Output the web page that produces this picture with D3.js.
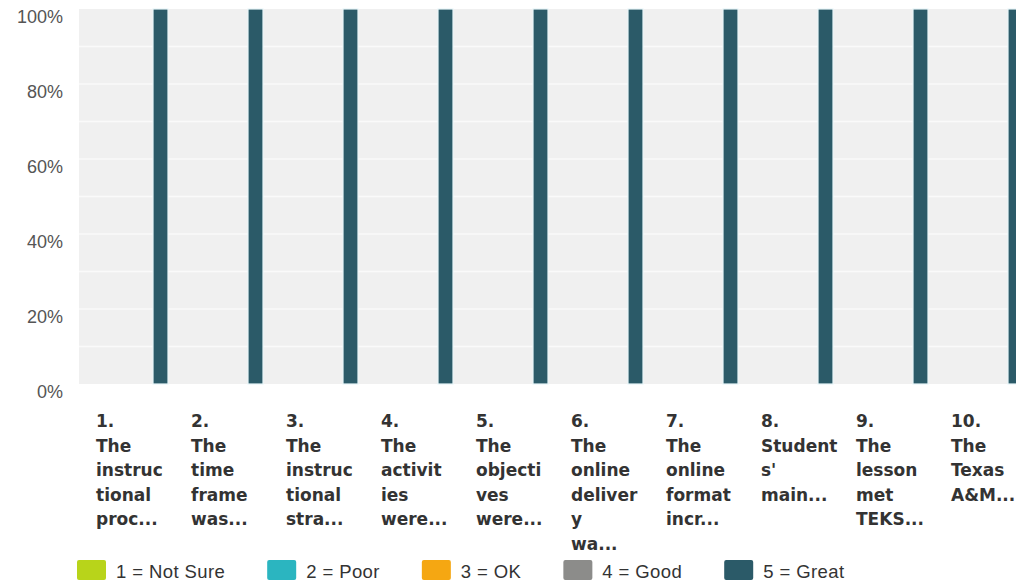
<!DOCTYPE html>
<html>
<head>
<meta charset="utf-8">
<script src="https://cdn.jsdelivr.net/npm/d3@7/dist/d3.min.js"></script>
<style>
  html, body { margin: 0; padding: 0; background: #fff; }
  svg { display: block; }
</style>
</head>
<body>
<svg id="chart" width="1016" height="585"></svg>
<script>
// ---- data ----
const categories = ["1", "2", "3", "4", "5", "6", "7", "8", "9", "10"];
const categoryLabels = [
  ["1.", "The", "instruc", "tional", "proc..."],
  ["2.", "The", "time", "frame", "was..."],
  ["3.", "The", "instruc", "tional", "stra..."],
  ["4.", "The", "activit", "ies", "were..."],
  ["5.", "The", "objecti", "ves", "were..."],
  ["6.", "The", "online", "deliver", "y", "wa..."],
  ["7.", "The", "online", "format", "incr..."],
  ["8.", "Student", "s'", "main..."],
  ["9.", "The", "lesson", "met", "TEKS..."],
  ["10.", "The", "Texas", "A&M..."]
];
const seriesNames = ["1 = Not Sure", "2 = Poor", "3 = OK", "4 = Good", "5 = Great"];
const seriesColors = ["#b8d41a", "#2bb5c0", "#f5a712", "#8c8c8a", "#2b5a68"];
const notSureValues = [0, 0, 0, 0, 0, 0, 0, 0, 0, 0];
const poorValues    = [0, 0, 0, 0, 0, 0, 0, 0, 0, 0];
const okValues      = [0, 0, 0, 0, 0, 0, 0, 0, 0, 0];
const goodValues    = [0, 0, 0, 0, 0, 0, 0, 0, 0, 0];
const greatValues   = [100, 100, 100, 100, 100, 100, 100, 100, 100, 100];
const yTicks = [0, 20, 40, 60, 80, 100];
const gridTicks = [10, 20, 30, 40, 50, 60, 70, 80, 90];

const seriesValues = [notSureValues, poorValues, okValues, goodValues, greatValues];

// ---- layout ----
const svg = d3.select("#chart");
const plotLeft = 79, plotRight = 1016, plotTop = 9, plotBottom = 384;

const x = d3.scaleBand().domain(categories).range([plotLeft, plotLeft + 95 * categories.length]).paddingInner(0);
const xs = d3.scaleBand().domain(seriesNames).range([14, 89]).paddingInner(0);
const y = d3.scaleLinear().domain([0, 100]).range([plotBottom, plotTop]);

// background
svg.append("rect")
  .attr("x", plotLeft).attr("y", plotTop)
  .attr("width", plotRight - plotLeft).attr("height", plotBottom - plotTop)
  .attr("fill", "#f0f0f0");

// white gridlines
svg.append("g").selectAll("line").data(gridTicks).join("line")
  .attr("x1", plotLeft).attr("x2", plotRight)
  .attr("y1", d => y(d)).attr("y2", d => y(d))
  .attr("stroke", "#fafafa").attr("stroke-width", 1.5);

// bars
const groups = svg.append("g").selectAll("g").data(categories).join("g")
  .attr("transform", d => `translate(${x(d)},0)`);
groups.selectAll("rect")
  .data((c, ci) => seriesNames.map((s, si) => ({ s, si, v: seriesValues[si][ci] })))
  .join("rect")
  .attr("x", d => xs(d.s))
  .attr("width", xs.bandwidth())
  .attr("y", d => y(d.v))
  .attr("height", d => y(0) - y(d.v))
  .attr("fill", d => seriesColors[d.si])
  .attr("stroke", d => d.v > 0 ? "#e8f6f8" : "none")
  .attr("stroke-width", 1.2);

// y axis labels
svg.append("g").selectAll("text").data(yTicks).join("text")
  .attr("x", 63)
  .attr("y", d => y(d) + 9)
  .attr("text-anchor", "end")
  .attr("dominant-baseline", "middle")
  .attr("font-family", "'Liberation Sans', Arial, sans-serif")
  .attr("font-size", 18)
  .attr("fill", "#555")
  .text(d => d + "%");

// x axis labels
const xl = svg.append("g").selectAll("text").data(categories).join("text")
  .attr("font-family", "'DejaVu Sans', Verdana, sans-serif")
  .attr("font-weight", "bold")
  .attr("font-size", 17)
  .attr("fill", "#333");
xl.each(function(d, i) {
  const t = d3.select(this);
  categoryLabels[i].forEach((line, li) => {
    t.append("tspan")
      .attr("x", x(d) + 17)
      .attr("y", 427 + li * 24.5)
      .text(line);
  });
});

// legend
const legend = svg.append("g");
let lx = 77;
seriesNames.forEach((name, i) => {
  legend.append("rect")
    .attr("x", lx).attr("y", 560)
    .attr("width", 29).attr("height", 20)
    .attr("rx", 2)
    .attr("fill", seriesColors[i]);
  const t = legend.append("text")
    .attr("x", lx + 39).attr("y", 578)
    .attr("font-family", "'Liberation Sans', Arial, sans-serif")
    .attr("font-size", 18.5)
    .attr("letter-spacing", 0.4)
    .attr("fill", "#333")
    .text(name);
  lx += 39 + t.node().getComputedTextLength() + 42;
});
</script>
</body>
</html>
